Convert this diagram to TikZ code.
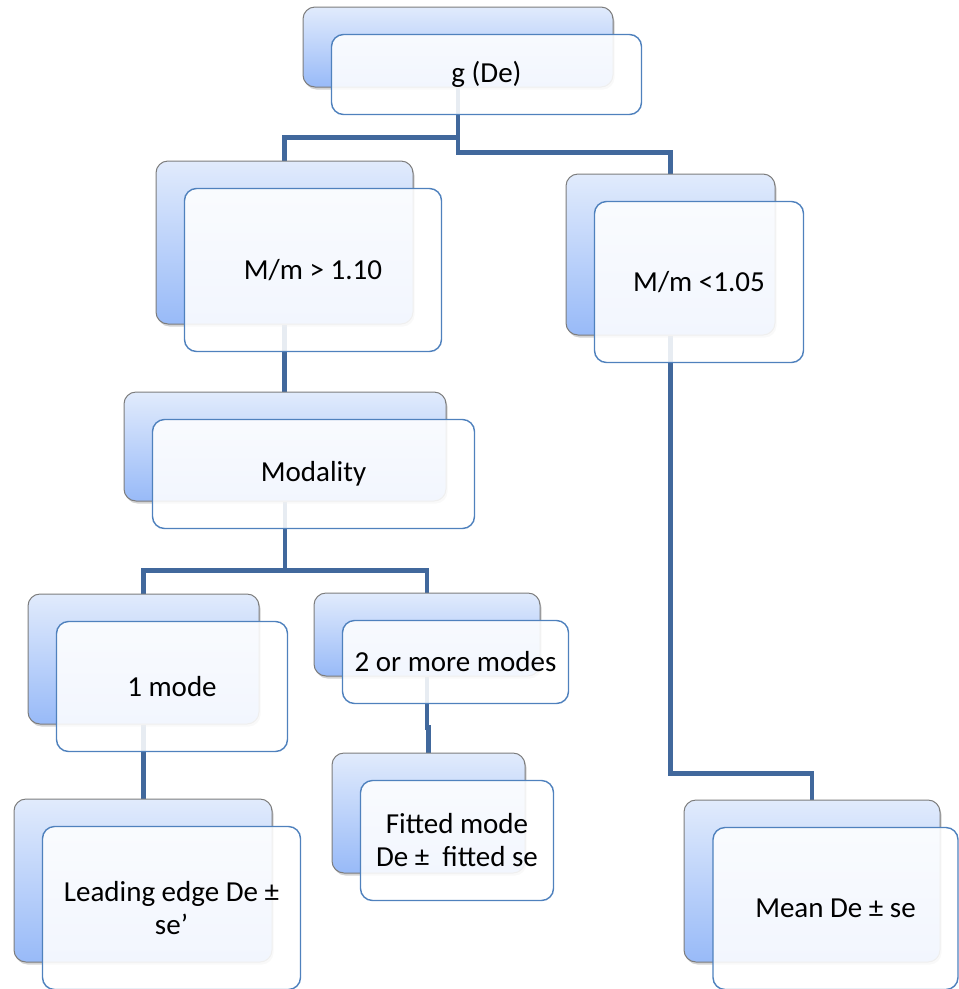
\documentclass[tikz,border=0pt]{standalone}
\usepackage{fontspec}
\setmainfont{Carlito}
\usetikzlibrary{shadows}
\definecolor{connc}{RGB}{65,104,156}
\definecolor{fborder}{RGB}{79,129,189}
\definecolor{btop}{RGB}{225,235,252}
\definecolor{bbot}{RGB}{152,186,248}
\definecolor{bborder}{RGB}{125,125,125}
\pgfdeclarelayer{bg}
\pgfsetlayers{bg,main}
\tikzset{
 backbox/.style={rectangle, rounded corners=12pt, draw=bborder, line width=1pt,
   top color=btop, bottom color=bbot, inner sep=0pt,
   drop shadow={shadow xshift=1.5pt, shadow yshift=-2.5pt, opacity=0.35}},
 frontbox/.style={rectangle, rounded corners=12pt, draw=fborder, line width=1.4pt,
   fill=white, fill opacity=0.88, text opacity=1, inner sep=0pt, align=center,
   font=\fontsize{29}{33}\selectfont},
 connline/.style={draw=connc, line width=4.2pt}
}
\newcommand\pairbox[6]{%
 \node[backbox, minimum width=#4pt, minimum height=#5pt] (#1b) at (#2,#3) {};
 \node[frontbox, minimum width=#4pt, minimum height=#5pt] (#1) at ({#2+28.5},{#3+27.5}) {#6};
}
\begin{document}
\begin{tikzpicture}[x=1pt,y=-1pt]
\useasboundingbox (0,0) rectangle (959,989);
\clip (0,0) rectangle (959,989);
\pairbox{g}{458}{47}{310}{80}{g (De)}
\pairbox{hi}{284.5}{242.5}{257}{163}{M/m > 1.10}
\pairbox{lo}{670.5}{254.5}{209}{161}{M/m <1.05}
\pairbox{mod}{285}{446.5}{322}{109}{Modality}
\pairbox{one}{143.5}{659}{231}{130}{1 mode}
\pairbox{two}{427}{634.5}{226}{83}{2 or more modes}
\pairbox{lead}{143}{880.5}{258}{163}{Leading edge De ±\\se’}
\pairbox{fit}{428.5}{813}{193}{120}{Fitted mode\\De ±~ fitted se}
\node[backbox, minimum width=256pt, minimum height=162pt] (meanb) at (812,881) {};
\node[frontbox, minimum width=245pt, minimum height=162pt] (mean) at (835.5,908.5) {Mean De ± se};
\begin{pgfonlayer}{bg}
\draw[connline] (gb.south) -- ++(0,50) -| (hib.north);
\draw[connline] (gb.south) -- ++(0,65) -| (lob.north);
\draw[connline] (hib.south) -- (hib.south |- modb.north);
\draw[connline] (modb.south) -- ++(0,69) -| (oneb.north);
\draw[connline] (modb.south) -- ++(0,69) -| (twob.north);
\draw[connline] (oneb.south) -- (oneb.south |- leadb.north);
\draw[connline] (twob.south) -- ++(0,51) -| (fitb.north);
\draw[connline] (lob.south) -- ++(0,438) -| (meanb.north);
\end{pgfonlayer}
\end{tikzpicture}
\end{document}
